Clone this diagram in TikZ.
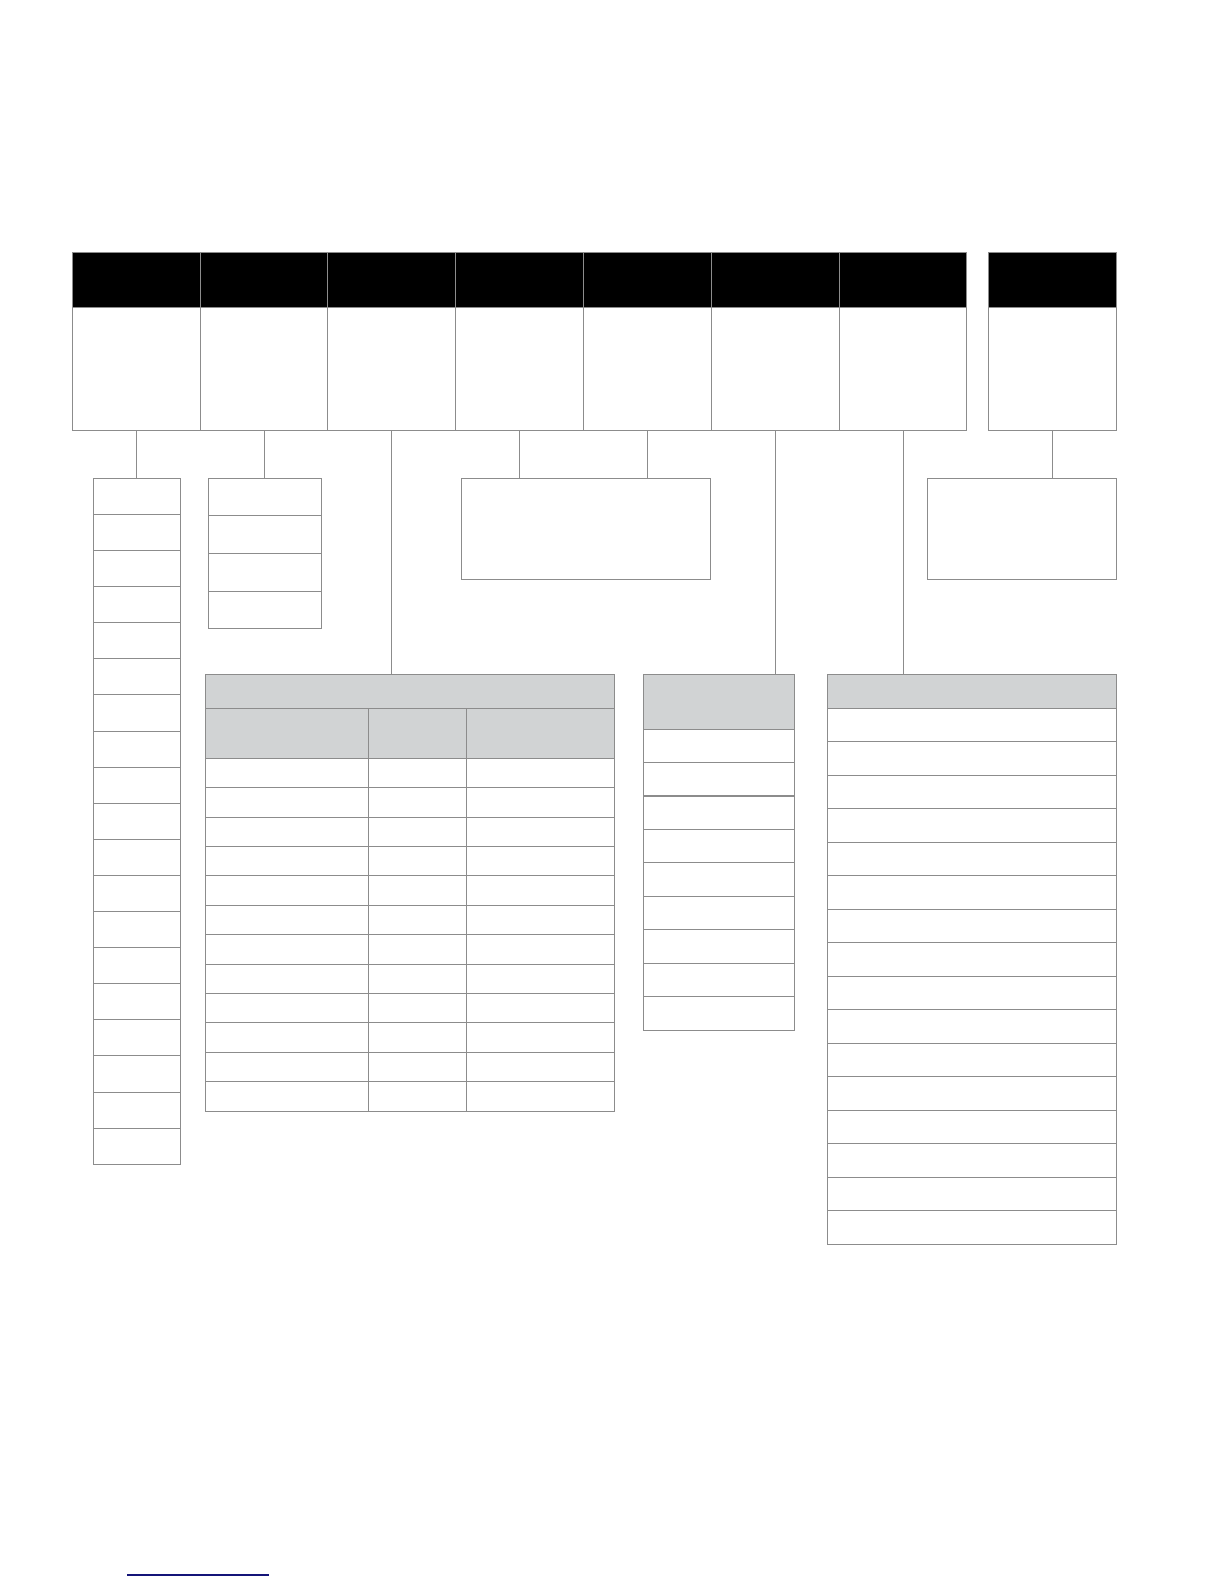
\documentclass[tikz,border=0pt]{standalone}
\definecolor{linegray}{RGB}{140,140,140}
\definecolor{cellgray}{RGB}{209,211,212}
\definecolor{linkblue}{RGB}{20,20,120}
\begin{document}
\begin{tikzpicture}[
                  x = 0.5pt,
                  y = -0.5pt,
          cell/.style 2 args = {rectangle,
                            draw=linegray,
                            line width=0.5pt,
                            minimum width=#1,
                            minimum height=#2,
                            anchor=north west,
                            inner sep=0pt,
                            outer sep=0pt},
          head/.style = {fill=black},
         shade/.style = {fill=cellgray},
          link/.style = {draw=linegray, line width=0.5pt},
            ]
            \useasboundingbox (0,0) rectangle (1224,1584);

            % top row of columns
            \foreach \c in {0,...,6}{%
                \node[cell={63.9pt}{27.5pt}, head] (h\c) at (72.3+127.8*\c,252.3) {};
                \node[cell={63.9pt}{61.5pt}] (b\c) at (72.3+127.8*\c,307.3) {};
            }
            \node[cell={64pt}{27.5pt}, head] (h7) at (988,252.3) {};
            \node[cell={64pt}{61.5pt}] (b7) at (988,307.3) {};

            % lists below
            \foreach \i in {0,...,18}{%
                \node[cell={43.75pt}{18.05pt}] (p\i) at (93.2,478.3+36.1*\i) {};
            }
            \foreach \i in {0,...,3}{%
                \node[cell={56.8pt}{18.8pt}] (q\i) at (208.2,478.3+37.6*\i) {};
            }
            \node[cell={124.65pt}{50.5pt}] (cx) at (461.4,478.3) {};
            \node[cell={94.7pt}{50.5pt}] (rx) at (927.3,478.3) {};

            % table
            \node[cell={204.5pt}{17pt}, shade] (tt) at (205.5,674.3) {};
            \foreach \x/\w [count=\j] in {205.5/81.6, 368.7/48.8, 466.3/74.1}{%
                \node[cell={\w pt}{25pt}, shade] (th\j) at (\x,708.3) {};
                \foreach \i in {0,...,11}{%
                    \node[cell={\w pt}{14.7pt}] (t\j-\i) at (\x,758.3+29.4*\i) {};
                }
            }

            \node[cell={75.5pt}{27.4pt}, shade] (m0) at (643.3,674.3) {};
            \foreach \i in {1,...,9}{%
                \node[cell={75.5pt}{16.72pt}] (m\i) at (643.3,729.1+33.45*\i-33.45) {};
            }
            \node[cell={144.7pt}{17pt}, shade] (n0) at (827.3,674.3) {};
            \foreach \i in {1,...,16}{%
                \node[cell={144.7pt}{16.75pt}] (n\i) at (827.3,708.3+33.5*\i-33.5) {};
            }

            % connectors
            \draw[link] (b0.south) -- (b0.south |- p0.north);
            \draw[link] (b1.south) -- (b1.south |- q0.north);
            \draw[link] (b2.south) -- (b2.south |- tt.north);
            \draw[link] (b3.south) -- (b3.south |- cx.north);
            \draw[link] (b4.south) -- (b4.south |- cx.north);
            \draw[link] (b5.south) -- (b5.south |- m0.north);
            \draw[link] (b6.south) -- (b6.south |- n0.north);
            \draw[link] (b7.south) -- (b7.south |- rx.north);

            \draw[linkblue, line width=0.6pt] (127,1575) -- (269,1575);
        \end{tikzpicture}
\end{document}
